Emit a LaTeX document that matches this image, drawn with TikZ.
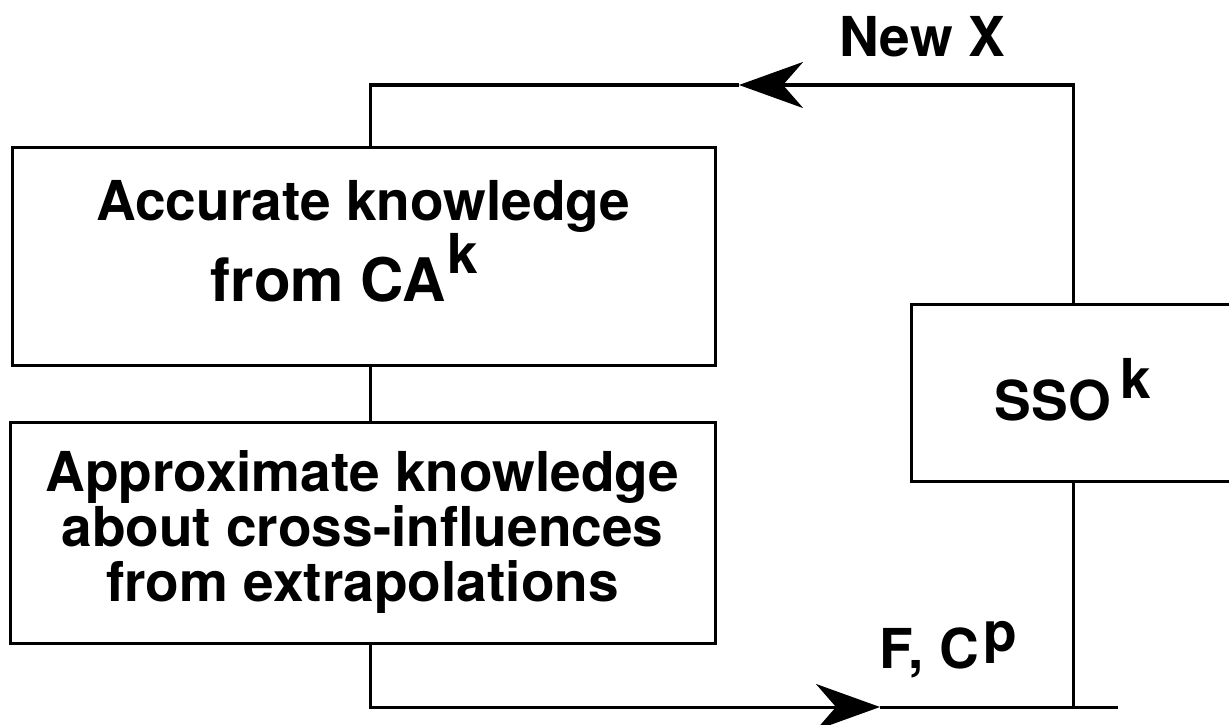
\documentclass[tikz,border=0pt]{standalone}
\usepackage{fontspec}
\setmainfont{TeX Gyre Heros}
\usetikzlibrary{arrows.meta}
\begin{document}
\begin{tikzpicture}[x=1pt,y=-1pt,
  box/.style={draw,line width=3pt,inner sep=0pt,align=center,
    font=\fontsize{55}{55}\selectfont\bfseries},
  lbl/.style={inner sep=0pt,font=\fontsize{55}{55}\selectfont\bfseries},
  conn/.style={line width=3pt},
  tip/.style={-{Stealth[length=64pt,width=46pt,inset=20pt]}}]
\useasboundingbox (0,0) rectangle (1229,725);
\node[box,minimum width=703pt,minimum height=218pt] (box1) at (363.5,256)
  {\fontsize{55}{64}\selectfont Accurate knowledge\\{\fontsize{60}{64}\selectfont from CA}\hspace{2pt}\raisebox{28pt}{k}\hspace{38pt}\rule[-30pt]{0pt}{0pt}};
\node[box,minimum width=705pt,minimum height=221pt] (box2) at (362.5,532.5)
  {Approximate knowledge\\about cross-influences\\from extrapolations};
\node[box,minimum width=324pt,minimum height=177pt] (sso) at (1073,392.5)
  {SSO\hspace{10pt}\raisebox{22pt}{k}\rule[-7pt]{0pt}{0pt}};
\node[lbl,anchor=base] (newx) at (922,57) {New X};
\node[lbl,anchor=base west] (fcp) at (879,668) {F, C\hspace{5pt}\raisebox{17pt}{p}};
\coordinate (tl) at (370,85);
\coordinate (tr) at (1073,85);
\coordinate (tip1) at (739,85);
\coordinate (bl) at (370,707);
\coordinate (tip2) at (880,707);
\coordinate (br) at (1118,707);
\draw[conn,tip] (sso.north) -- (tr) -- (tip1);
\draw[conn] (tip1) -- (tl) -- (tl |- box1.north);
\draw[conn] (box1.south -| tl) -- (box2.north -| tl);
\draw[conn,tip] (box2.south -| tl) -- (bl) -- (tip2);
\draw[conn] (tip2) -- (br);
\draw[conn] (sso.south) -- (sso.south |- br);
\end{tikzpicture}
\end{document}
